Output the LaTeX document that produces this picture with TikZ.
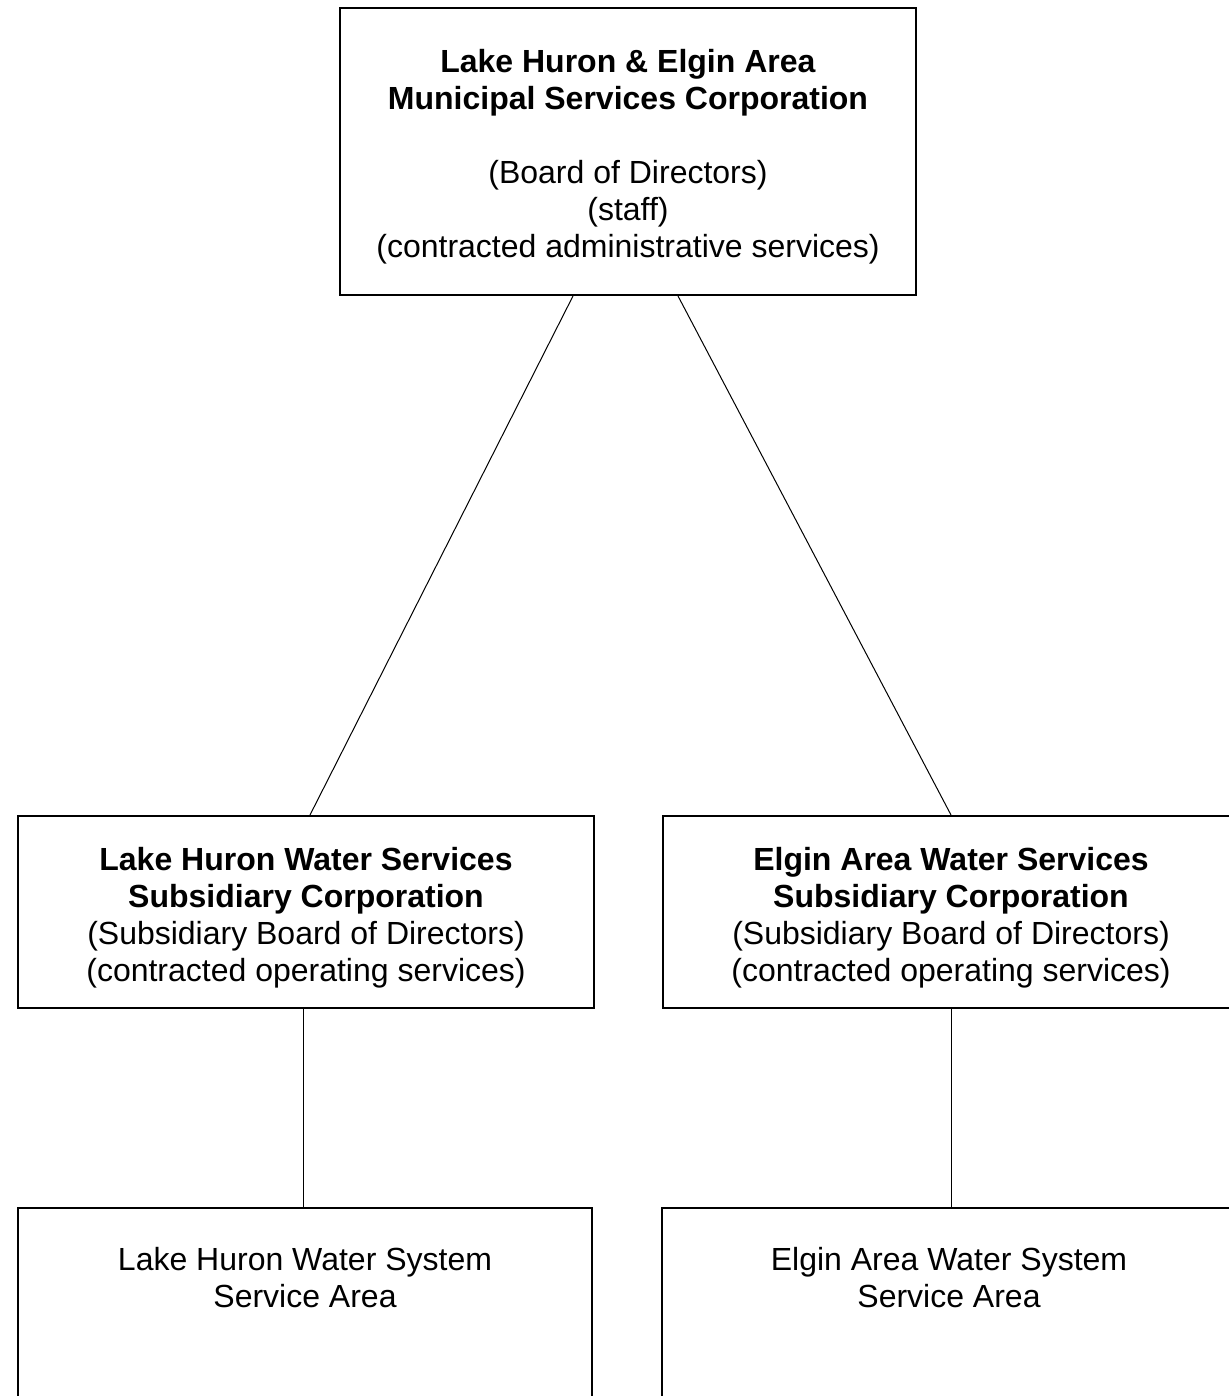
\documentclass[tikz,border=0pt]{standalone}
\usepackage{fontspec}
\setmainfont{Liberation Sans}
\usetikzlibrary{calc}
\tikzset{
    box/.style = {draw, line width=1pt, inner sep=0pt, align=center,
        font=\fontsize{16}{18.5}\selectfont},
    link/.style = {line width=0.5pt},
}

\begin{document}
\begin{tikzpicture}[x=0.5pt, y=-0.5pt]
\clip (0,0) rectangle (1229,1396);

\node(MSC)[box, minimum width=288pt, minimum height=143.5pt] at (628,151.5)
    {\rule{0pt}{17pt}\textbf{Lake Huron \& Elgin Area}\\\textbf{Municipal Services Corporation}\\[18.5pt]
     (Board of Directors)\\(staff)\\(contracted administrative services)};

\node(LH)[box, minimum width=288pt, minimum height=96pt] at (306,912)
    {\rule{0pt}{17pt}\textbf{Lake Huron Water Services}\\\textbf{Subsidiary Corporation}\\
     (Subsidiary Board of Directors)\\(contracted operating services)};
\node(EA)[box, minimum width=288pt, minimum height=96pt] at (951,912)
    {\rule{0pt}{17pt}\textbf{Elgin Area Water Services}\\\textbf{Subsidiary Corporation}\\
     (Subsidiary Board of Directors)\\(contracted operating services)};

\node(LHA)[box, minimum width=287pt, anchor=north] at (305,1207)
    {\rule{0pt}{31pt}Lake Huron Water System\\Service Area\rule[-100pt]{0pt}{0pt}};
\node(EAA)[box, minimum width=287pt, anchor=north] at (949,1207)
    {\rule{0pt}{31pt}Elgin Area Water System\\Service Area\rule[-100pt]{0pt}{0pt}};

\coordinate (LH-out) at ($(LH.south)+(-3,0)$);

\draw[link] ($(MSC.south)+(-55,0)$) -- ($(LH.north)+(4,0)$);
\draw[link] ($(MSC.south)+(50,0)$) -- (EA.north);
\draw[link] (LH-out) -- (LH-out |- LHA.north);
\draw[link] (EA.south) -- (EA.south |- EAA.north);

\end{tikzpicture}
\end{document}
